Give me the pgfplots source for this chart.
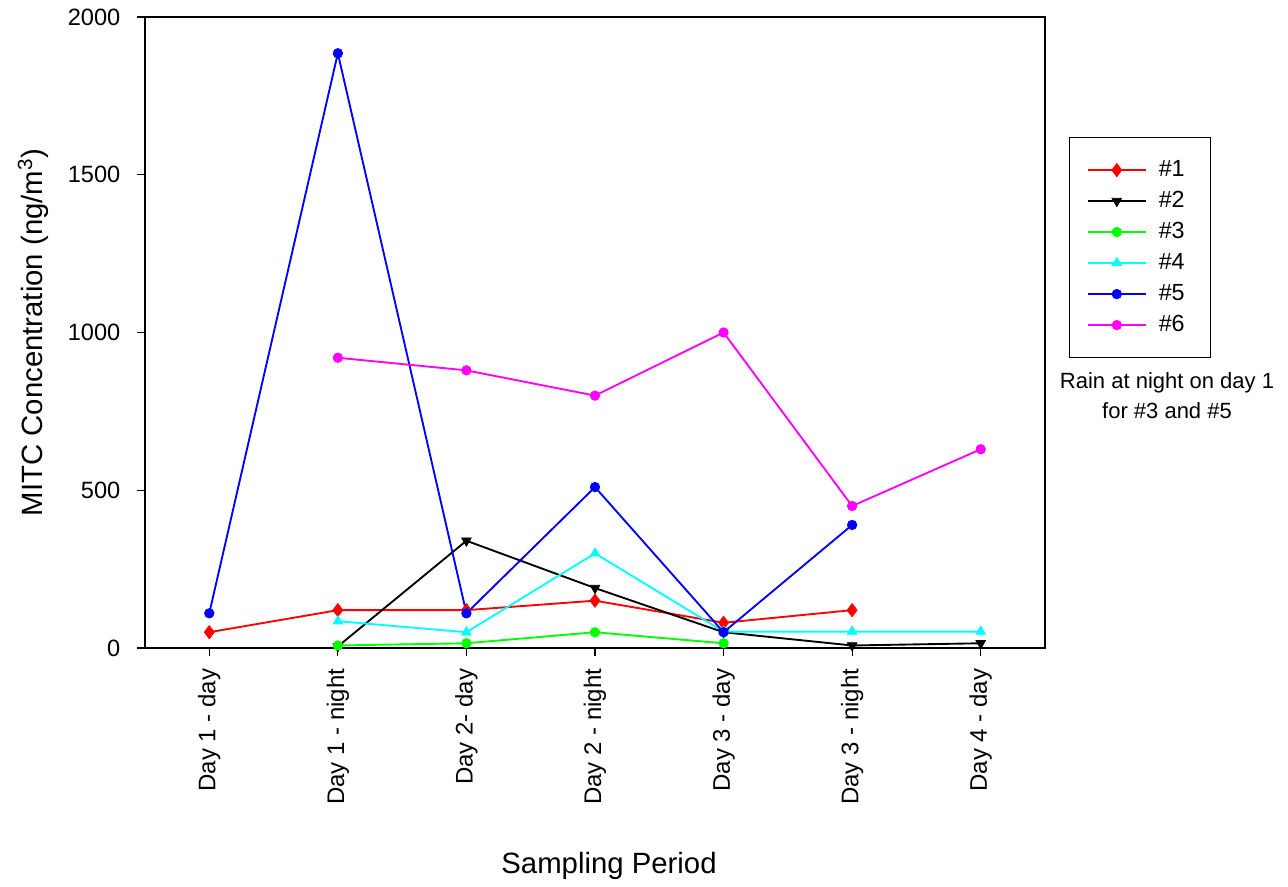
\documentclass[border=0pt]{standalone}
\usepackage{pgfplots}
\pgfplotsset{compat=1.18}
\usepackage{fontspec}
\setmainfont{Liberation Sans}
\definecolor{cRed}{RGB}{255,0,0}
\definecolor{cGreen}{RGB}{0,255,0}
\definecolor{cCyan}{RGB}{0,255,255}
\definecolor{cBlue}{RGB}{0,0,255}
\definecolor{cMag}{RGB}{255,0,255}
\begin{document}
\begin{tikzpicture}
\begin{axis}[
  name=ax,
  clip=false,
  scale only axis,
  width=675pt, height=473.25pt,
  xmin=-0.5, xmax=6.5,
  ymin=0, ymax=2000,
  xtick={0,1,2,3,4,5,6},
  xticklabels={Day 1 - day, Day 1 - night, Day 2- day, Day 2 - night, Day 3 - day, Day 3 - night, Day 4 - day},
  ytick={0,500,1000,1500,2000},
  tick align=outside,
  xtick pos=bottom, ytick pos=left,
  major tick length=6pt,
  tick style={black, line width=0.8pt},
  axis line style={black, line width=0.9pt},
  /pgf/number format/assume math mode=true,
  /pgf/number format/1000 sep={},
  yticklabel style={font=\fontsize{17.7}{21}\selectfont, xshift=-9pt},
  xticklabel style={font=\fontsize{18}{21}\selectfont, rotate=90, anchor=east, xshift=-6pt},
  xlabel={Sampling Period},
  ylabel={MITC Concentration (ng/m\textsuperscript{3})},
  xlabel style={font=\fontsize{22}{26}\selectfont, at={(axis description cs:0.5156,-0.3455)}, anchor=center},
  ylabel style={font=\fontsize{22}{26}\selectfont, at={(axis description cs:-0.1244,0.5)}, anchor=center},
  every axis plot/.append style={line width=1.4pt, mark size=3.6pt,
    legend image code/.code={\draw[mark repeat=2,mark phase=2] plot coordinates {(0pt,0pt)(21.75pt,0pt)(43.5pt,0pt)};}},
  legend cell align=left,
  legend style={at={(rel axis cs:1.0267,0.81)}, anchor=north west, draw=black, line width=0.8pt, fill=white,
    font=\fontsize{17.5}{21}\selectfont, inner xsep=13pt, inner ysep=16pt, row sep=6.25pt,
    nodes={inner xsep=0pt, inner ysep=0pt, text height=13pt, text depth=4pt},
    /tikz/every odd column/.style={column sep=9pt}},
]
\addplot[color=cRed, mark=diamond*, mark options={fill=cRed, draw=cRed, line width=0.5pt}, mark size=5pt] coordinates {
(0,50) (1,120) (2,120) (3,150) (4,80) (5,120)};
\addlegendentry{\#1\rule{6pt}{0pt}}
\addplot[color=black, mark=triangle*, mark options={rotate=180, fill=black, line width=0.5pt}, mark size=4.2pt] coordinates {
(1,5) (2,340) (3,190) (4,50) (5,8) (6,15)};
\addlegendentry{\#2}
\addplot[color=cGreen, mark=*, mark options={fill=cGreen, draw=cGreen, line width=0.5pt}] coordinates {
(1,8) (2,15) (3,50) (4,15)};
\addlegendentry{\#3}
\addplot[color=cCyan, mark=triangle*, mark options={fill=cCyan, draw=cCyan, line width=0.5pt}, mark size=4.2pt] coordinates {
(1,85) (2,50) (3,300) (4,52) (5,52) (6,52)};
\addlegendentry{\#4}
\addplot[color=cBlue, mark=*, mark options={fill=cBlue, draw=cBlue, line width=0.5pt}] coordinates {
(0,110) (1,1885) (2,110) (3,510) (4,50) (5,390)};
\addlegendentry{\#5}
\addplot[color=cMag, mark=*, mark options={fill=cMag, draw=cMag, line width=0.5pt}] coordinates {
(1,920) (2,880) (3,800) (4,1000) (5,450) (6,630)};
\addlegendentry{\#6}
\end{axis}
\node[align=center, font=\fontsize{16.5}{22.5}\selectfont, anchor=north] at ([xshift=91.5pt,yshift=-263pt]ax.north east) {Rain at night on day 1\\for \#3 and \#5};
\pgfresetboundingbox
\path ([xshift=-108.75pt,yshift=-178.5pt]ax.south west) rectangle ([xshift=182.25pt,yshift=12.75pt]ax.north east);
\end{tikzpicture}
\end{document}
